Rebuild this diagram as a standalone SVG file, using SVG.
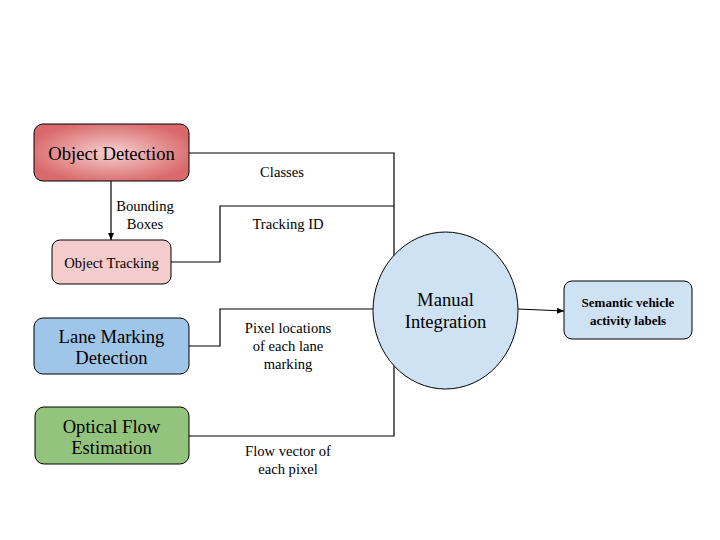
<svg xmlns="http://www.w3.org/2000/svg" width="720" height="540" viewBox="0 0 720 540">
<style>
.box{stroke:#000;stroke-width:1}
.ln{fill:none;stroke:#000;stroke-width:1.2}
text{font-family:"Liberation Serif","Times New Roman",serif;fill:#000;text-anchor:middle}
.big{font-size:18.6px}
.lbl{font-size:14.6px}
.sem{font-size:13px;font-weight:bold}
</style>
<defs>
<radialGradient id="g1" cx="0.5" cy="0.5" r="0.55">
<stop offset="0" stop-color="#f6d0d0"/>
<stop offset="1" stop-color="#d9696a"/>
</radialGradient>
<marker id="ah" markerWidth="8" markerHeight="8" refX="7" refY="4" orient="auto" markerUnits="userSpaceOnUse">
<path d="M0,1 L7,4 L0,7 Z" fill="#000"/>
</marker>
</defs>
<rect width="720" height="540" fill="#fff"/>
<g id="connectors">
<path class="ln" d="M189,153 H394 V256"/>
<path class="ln" d="M171,262 H220 V206 H394"/>
<path class="ln" d="M189,346 H220 V309 H373"/>
<path class="ln" d="M189,436 H394 V366"/>
<path class="ln" d="M111,181 V240" marker-end="url(#ah)"/>
<path class="ln" d="M518,309 L564,311" marker-end="url(#ah)"/>
</g>
<g id="labels">
<text x="282" y="177" class="lbl">Classes</text>
<text x="145" y="211" class="lbl">Bounding</text>
<text x="145" y="229" class="lbl">Boxes</text>
<text x="288" y="229" class="lbl">Tracking ID</text>
<text x="288" y="333" class="lbl">Pixel locations</text>
<text x="288" y="351" class="lbl">of each lane</text>
<text x="288" y="369" class="lbl">marking</text>
<text x="288" y="456" class="lbl">Flow vector of</text>
<text x="288" y="474" class="lbl">each pixel</text>
</g>
<g id="object-detection">
<rect class="box" x="34" y="124" width="155" height="57" rx="9" fill="url(#g1)"/>
<text x="111.5" y="160" class="big">Object Detection</text>
</g>
<g id="object-tracking">
<rect class="box" x="52" y="240" width="119" height="44" rx="8" fill="#f4cccc"/>
<text x="111.5" y="268" class="lbl">Object Tracking</text>
</g>
<g id="lane-marking">
<rect class="box" x="34" y="318" width="155" height="56" rx="9" fill="#9fc5e8"/>
<text x="111.5" y="343" class="big">Lane Marking</text>
<text x="111.5" y="364" class="big">Detection</text>
</g>
<g id="optical-flow">
<rect class="box" x="35" y="407" width="154" height="57" rx="9" fill="#93c47d"/>
<text x="111.5" y="433" class="big">Optical Flow</text>
<text x="111.5" y="454" class="big">Estimation</text>
</g>
<g id="manual-integration">
<ellipse class="box" cx="445.5" cy="310.5" rx="72.5" ry="78.5" fill="#cfe2f3"/>
<text x="445.5" y="306" class="big">Manual</text>
<text x="445.5" y="328" class="big">Integration</text>
</g>
<g id="semantic-labels">
<rect class="box" x="564" y="281" width="128" height="58" rx="8" fill="#cfe2f3"/>
<text x="628" y="307" class="sem">Semantic vehicle</text>
<text x="628" y="325" class="sem">activity labels</text>
</g>
</svg>
